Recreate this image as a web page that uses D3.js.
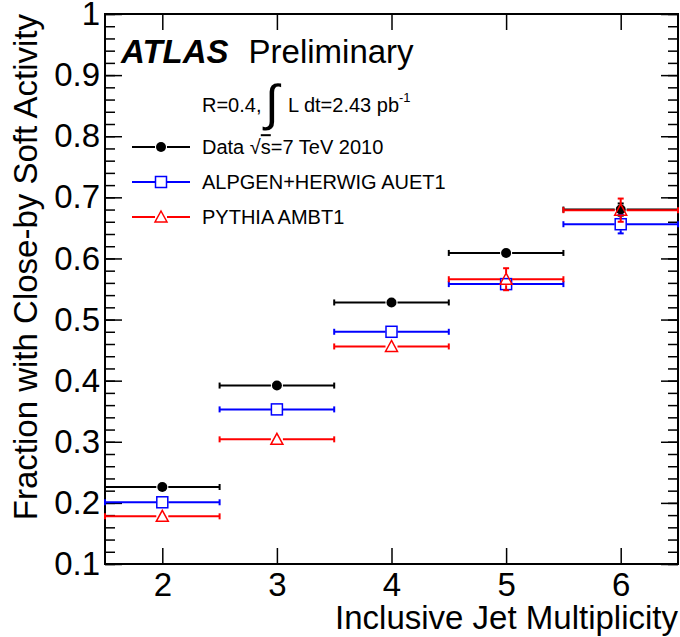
<!DOCTYPE html>
<html>
<head>
<meta charset="utf-8">
<script src="https://cdn.jsdelivr.net/npm/d3@7"></script>
<style>
  body { margin: 0; background: #fff; }
  svg { display: block; }
  text { font-family: "Liberation Sans", Arial, Helvetica, sans-serif; }
</style>
</head>
<body>
<div id="chart"></div>
<script>
// jet multiplicity bins (bin half width 0.5)
const multiplicity = [2, 3, 4, 5, 6];
const binHalfWidth = 0.5;

// fraction with close-by soft activity, per sample
const dataFraction = [0.226, 0.392, 0.528, 0.609, 0.680];
const dataError = [0.003, 0.004, 0.004, 0.005, 0.010];
const alpgenFraction = [0.201, 0.353, 0.480, 0.558, 0.656];
const alpgenError = [0.003, 0.004, 0.004, 0.005, 0.015];
const pythiaFraction = [0.178, 0.304, 0.456, 0.566, 0.679];
const pythiaError = [0.003, 0.004, 0.009, 0.018, 0.019];

// axis ticks
const xTicks = [2, 3, 4, 5, 6];
const yTicks = [0.1, 0.2, 0.3, 0.4, 0.5, 0.6, 0.7, 0.8, 0.9, 1];
const yMinorTicks = d3.range(0.1, 1.0001, 0.02);

const width = 680;
const height = 637;
const frame = {left: 105, right: 678, top: 14, bottom: 564};
const bigFont = 33;

const x = d3.scaleLinear().domain([1.5, 6.5]).range([frame.left, frame.right]);
const y = d3.scaleLinear().domain([0.1, 1]).range([frame.bottom, frame.top]);

const svg = d3.select('#chart')
  .append('svg')
  .attr('width', width)
  .attr('height', height);

// Minor y ticks, both sides
[frame.left, frame.right].forEach((px, i) => {
  const minor = (i === 0 ? d3.axisLeft(y) : d3.axisRight(y))
    .tickValues(yMinorTicks)
    .tickSize(-10)
    .tickFormat('');
  svg.append('g').attr('transform', `translate(${px},0)`).call(minor)
    .call(g => g.select('.domain').remove())
    .selectAll('line').attr('stroke', '#000').attr('stroke-width', 1.5);
});

// Major y ticks with labels on the left
const yAxis = d3.axisLeft(y)
  .tickValues(yTicks)
  .tickSize(-17)
  .tickPadding(5)
  .tickFormat(d => d === 1 ? '1' : d3.format('.1f')(d));
svg.append('g').attr('transform', `translate(${frame.left},0)`).call(yAxis)
  .call(g => g.select('.domain').remove())
  .call(g => g.selectAll('line').attr('stroke', '#000').attr('stroke-width', 1.5))
  .selectAll('text').attr('font-size', bigFont).attr('fill', '#000')
  .attr('font-family', '"Liberation Sans", Arial, sans-serif');

svg.append('g').attr('transform', `translate(${frame.right},0)`)
  .call(d3.axisRight(y).tickValues(yTicks).tickSize(-17).tickFormat(''))
  .call(g => g.select('.domain').remove())
  .selectAll('line').attr('stroke', '#000').attr('stroke-width', 1.5);

// x ticks, bottom with labels and top mirrored
const xAxis = d3.axisBottom(x)
  .tickValues(xTicks)
  .tickSize(-16)
  .tickPadding(9)
  .tickFormat(d3.format('d'));
svg.append('g').attr('transform', `translate(0,${frame.bottom})`).call(xAxis)
  .call(g => g.select('.domain').remove())
  .call(g => g.selectAll('line').attr('stroke', '#000').attr('stroke-width', 1.5))
  .selectAll('text').attr('font-size', bigFont).attr('fill', '#000')
  .attr('font-family', '"Liberation Sans", Arial, sans-serif');

svg.append('g').attr('transform', `translate(0,${frame.top})`)
  .call(d3.axisTop(x).tickValues(xTicks).tickSize(-16).tickFormat(''))
  .call(g => g.select('.domain').remove())
  .selectAll('line').attr('stroke', '#000').attr('stroke-width', 1.5);

// Frame
svg.append('rect')
  .attr('x', frame.left).attr('y', frame.top)
  .attr('width', frame.right - frame.left).attr('height', frame.bottom - frame.top)
  .attr('fill', 'none').attr('stroke', '#000').attr('stroke-width', 2);

// Axis titles
svg.append('text')
  .attr('x', frame.right).attr('y', 629)
  .attr('text-anchor', 'end').attr('font-size', bigFont)
  .text('Inclusive Jet Multiplicity');

svg.append('text')
  .attr('transform', `translate(37,${frame.top}) rotate(-90)`)
  .attr('text-anchor', 'end').attr('font-size', bigFont)
  .text('Fraction with Close-by Soft Activity');

// Series drawing
const series = [
  {values: dataFraction, errors: dataError, color: '#000', marker: 'circle'},
  {values: alpgenFraction, errors: alpgenError, color: '#0000ff', marker: 'square'},
  {values: pythiaFraction, errors: pythiaError, color: '#ff0000', marker: 'triangle'}
];

const gap = 6;
const cap = 3;

function drawMarker(g, kind, cx, cy, color) {
  if (kind === 'circle') {
    g.append('circle').attr('cx', cx).attr('cy', cy).attr('r', 5)
      .attr('fill', color);
  } else if (kind === 'square') {
    g.append('rect').attr('x', cx - 5.5).attr('y', cy - 5.5)
      .attr('width', 11).attr('height', 11)
      .attr('fill', 'none').attr('stroke', color).attr('stroke-width', 1.5);
  } else {
    g.append('path')
      .attr('d', `M${cx},${cy - 6}L${cx + 6},${cy + 5}L${cx - 6},${cy + 5}Z`)
      .attr('fill', 'none').attr('stroke', color).attr('stroke-width', 1.5);
  }
}

series.forEach(s => {
  const g = svg.append('g');
  multiplicity.forEach((m, i) => {
    const cx = x(m), cy = y(s.values[i]);
    const x0 = x(m - binHalfWidth), x1 = x(m + binHalfWidth);
    const yHi = y(s.values[i] + s.errors[i]), yLo = y(s.values[i] - s.errors[i]);
    const segs = [
      [x0, cy, cx - gap, cy], [cx + gap, cy, x1, cy],
      [x0, cy - cap, x0, cy + cap], [x1, cy - cap, x1, cy + cap]
    ];
    if (yHi < cy - gap) {
      segs.push([cx, cy - gap, cx, yHi], [cx - cap, yHi, cx + cap, yHi]);
    }
    if (yLo > cy + gap) {
      segs.push([cx, cy + gap, cx, yLo], [cx - cap, yLo, cx + cap, yLo]);
    }
    segs.forEach(d => g.append('line')
      .attr('x1', d[0]).attr('y1', d[1]).attr('x2', d[2]).attr('y2', d[3])
      .attr('stroke', s.color).attr('stroke-width', 2));
    drawMarker(g, s.marker, cx, cy, s.color);
  });
});

// ATLAS label
const label = svg.append('text').attr('x', 121).attr('y', 63).attr('font-size', bigFont);
label.append('tspan').attr('font-weight', 'bold').attr('font-style', 'italic').text('ATLAS');
label.append('tspan').attr('dx', 20).text('Preliminary');

// Luminosity line
svg.append('text').attr('x', 202).attr('y', 112).attr('font-size', 20).text('R=0.4,');
svg.append('text').attr('x', 265).attr('y', 120).attr('font-size', 50)
  .attr('font-family', '"DejaVu Sans", sans-serif').attr('font-weight', 200).text('\u222B');
const lumi = svg.append('text').attr('x', 288).attr('y', 112).attr('font-size', 20);
lumi.append('tspan').text('L dt=2.43 pb');
lumi.append('tspan').attr('font-size', 13).attr('dy', -10).text('-1');

// Legend
const legendY = [147, 182, 217];
series.forEach((s, i) => {
  const g = svg.append('g');
  const ly = legendY[i];
  [[132, 161 - gap], [161 + gap, 190]].forEach(d => g.append('line')
    .attr('x1', d[0]).attr('x2', d[1]).attr('y1', ly).attr('y2', ly)
    .attr('stroke', s.color).attr('stroke-width', 2));
  drawMarker(g, s.marker, 161, ly, s.color);
  const t = g.append('text').attr('x', 202).attr('y', ly).attr('dy', '0.36em')
    .attr('font-size', 20);
  if (i === 0) {
    t.append('tspan').text('Data \u221A');
    t.append('tspan').attr('text-decoration', 'overline').text('s');
    t.append('tspan').text('=7 TeV 2010');
  } else {
    t.text(i === 1 ? 'ALPGEN+HERWIG AUET1' : 'PYTHIA AMBT1');
  }
});
</script>
</body>
</html>
